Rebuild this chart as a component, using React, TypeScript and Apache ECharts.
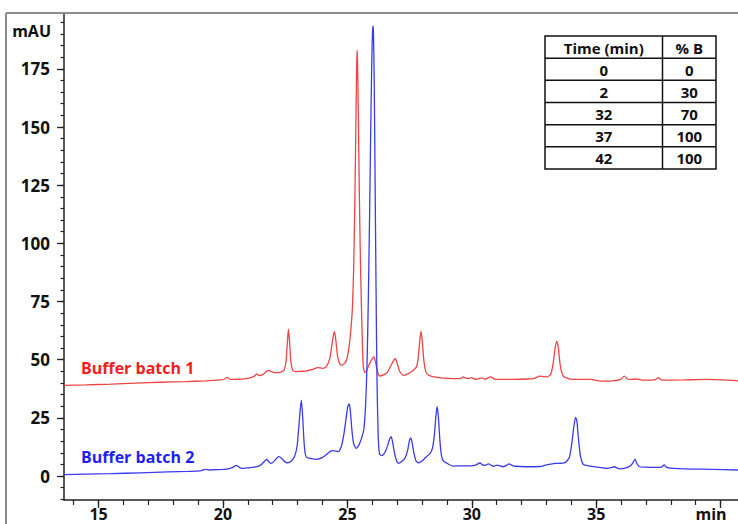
import React, { useEffect, useRef } from "react";
import * as echarts from "echarts";

// ---- Data ----
const seriesNames = ["Buffer batch 1", "Buffer batch 2"];

// [time (min), signal (mAU)]
const batch1Points: number[][] = [
  [13.61, 39.0], [14.5, 39.2], [15.5, 39.5], [16.5, 39.9], [17.5, 40.3], [18.5, 40.6],
  [19.3, 40.9], [19.9, 41.3], [20.05, 41.6], [20.18, 42.4], [20.3, 41.5], [20.6, 41.6],
  [21.0, 42.0], [21.25, 42.8], [21.36, 43.9], [21.45, 43.2], [21.6, 43.6], [21.75, 45.0],
  [21.83, 45.4], [21.95, 44.9], [22.1, 44.4], [22.3, 44.6], [22.45, 45.5], [22.53, 49],
  [22.58, 56], [22.63, 63.1], [22.68, 57], [22.73, 49], [22.8, 45.5], [22.9, 44.9],
  [23.1, 45.0], [23.37, 45.2], [23.6, 45.8], [23.8, 46.6], [24.0, 46.3], [24.15, 47],
  [24.28, 50], [24.36, 55], [24.43, 60], [24.48, 62], [24.53, 59], [24.6, 52],
  [24.68, 48.5], [24.77, 47.6], [24.88, 48.4], [24.97, 50], [25.06, 55], [25.14, 63],
  [25.2, 72], [25.25, 88], [25.3, 118], [25.34, 150], [25.37, 174], [25.39, 183],
  [25.41, 178], [25.44, 155], [25.48, 122], [25.52, 95], [25.56, 75], [25.6, 58],
  [25.64, 47], [25.7, 44.5], [25.8, 46], [25.9, 48.5], [26.0, 50.5], [26.07, 51.2],
  [26.14, 48.5], [26.22, 44.5], [26.31, 43.0], [26.45, 43.5], [26.6, 44.5], [26.75, 47.5],
  [26.85, 49.5], [26.93, 50.4], [27.0, 48.5], [27.1, 45], [27.25, 43.3], [27.45, 44],
  [27.65, 45.5], [27.78, 47], [27.85, 51], [27.9, 57], [27.96, 62.3], [28.01, 58],
  [28.07, 50], [28.15, 45], [28.26, 43.3], [28.5, 42.6], [28.73, 42.2], [29.2, 41.9],
  [29.53, 41.9], [29.66, 42.6], [29.78, 42.0], [29.9, 42.0], [30.0, 42.3], [30.13, 41.6],
  [30.27, 41.8], [30.4, 42.2], [30.53, 41.6], [30.74, 42.6], [30.9, 41.8], [31.0, 41.5],
  [31.6, 41.5], [32.2, 41.7], [32.48, 41.9], [32.74, 42.9], [33.04, 42.6], [33.18, 44],
  [33.28, 49], [33.35, 55], [33.42, 58], [33.48, 55], [33.55, 48], [33.63, 44],
  [33.71, 42.6], [34.08, 41.5], [34.82, 41.5], [35.16, 40.8], [35.69, 40.9], [35.98, 41.5],
  [36.13, 42.9], [36.25, 41.8], [36.36, 41.5], [36.62, 41.7], [36.9, 41.2], [37.35, 41.3],
  [37.5, 42.3], [37.64, 41.2], [38.5, 41.3], [39.45, 41.5], [40.7, 40.9],
];

const batch2Points: number[][] = [
  [13.61, 0.6], [14.5, 0.8], [15.5, 1.0], [16.67, 1.4], [17.8, 1.8], [18.6, 2.0],
  [19.08, 2.2], [19.3, 2.9], [19.45, 2.6], [19.61, 2.7], [20.0, 2.9], [20.22, 3.1],
  [20.4, 3.7], [20.53, 4.6], [20.65, 3.8], [20.75, 3.3], [21.1, 3.6], [21.36, 4.0],
  [21.55, 5.0], [21.68, 6.5], [21.76, 7.1], [21.85, 6.0], [21.92, 5.4], [22.05, 6.3],
  [22.18, 7.9], [22.25, 8.3], [22.35, 7.6], [22.48, 6.2], [22.59, 5.7], [22.75, 6.5],
  [22.88, 8.5], [22.98, 13], [23.04, 20], [23.1, 28], [23.15, 32.6], [23.2, 26],
  [23.25, 16], [23.3, 9.9], [23.37, 8.0], [23.55, 7.5], [23.77, 7.2], [24.0, 8.0],
  [24.17, 9.4], [24.3, 10.5], [24.41, 10.9], [24.55, 10.7], [24.64, 10.5], [24.75, 12.5],
  [24.86, 18], [24.95, 25], [25.02, 30], [25.07, 31], [25.12, 28], [25.18, 20],
  [25.25, 14], [25.35, 11.9], [25.47, 13.5], [25.58, 16.6], [25.66, 20], [25.73, 30],
  [25.79, 48], [25.84, 75], [25.89, 110], [25.94, 150], [25.98, 178], [26.01, 191],
  [26.03, 193.5], [26.05, 190], [26.08, 168], [26.11, 132], [26.14, 95], [26.17, 60],
  [26.2, 35], [26.24, 17], [26.29, 9.5], [26.38, 8.8], [26.52, 10.4], [26.63, 13.5],
  [26.7, 16], [26.76, 16.9], [26.82, 14.5], [26.9, 9.5], [26.98, 6.5], [27.05, 5.4],
  [27.18, 6.2], [27.32, 7.8], [27.42, 11], [27.5, 15.5], [27.55, 16.4], [27.6, 14.5],
  [27.68, 9.5], [27.76, 6.5], [27.85, 5.7], [28.0, 6.5], [28.18, 8.3], [28.32, 9.6],
  [28.42, 12], [28.5, 18], [28.56, 26], [28.61, 29.8], [28.66, 25], [28.72, 15],
  [28.78, 9], [28.85, 6.5], [29.0, 5.5], [29.25, 4.3], [29.53, 4.4], [29.9, 4.4],
  [30.15, 4.7], [30.33, 5.6], [30.43, 4.8], [30.53, 4.6], [30.67, 5.2], [30.8, 4.5],
  [30.87, 4.2], [31.03, 4.7], [31.25, 4.0], [31.38, 4.5], [31.5, 5.2], [31.62, 4.6],
  [31.74, 4.2], [32.2, 4.0], [32.74, 4.1], [33.0, 4.8], [33.35, 5.4], [33.75, 5.8],
  [33.92, 8], [34.02, 14], [34.1, 21], [34.17, 25.2], [34.22, 24], [34.28, 17],
  [34.36, 9], [34.45, 5.5], [34.51, 4.8], [34.89, 4.0], [35.2, 3.6], [35.43, 3.3],
  [35.6, 3.6], [35.72, 4.0], [35.85, 3.4], [35.96, 3.1], [36.2, 3.5], [36.38, 4.4],
  [36.48, 5.8], [36.56, 7.3], [36.63, 5.5], [36.74, 4.0], [37.0, 3.8], [37.3, 3.7],
  [37.62, 3.8], [37.73, 4.8], [37.82, 3.8], [37.97, 3.4], [38.8, 3.0], [39.6, 2.9],
  [40.7, 2.6],
];

// Axis ticks
const xLabelValues = [15, 20, 25, 30, 35];
const xMajorTicks = [15, 20, 25, 30, 35, 40];
const xMinorTicks = [14, 15, 16, 17, 18, 19, 20, 21, 22, 23, 24, 25, 26, 27, 28, 29, 30, 31, 32, 33, 34, 35, 36, 37, 38, 39, 40];
const yLabelValues = [0, 25, 50, 75, 100, 125, 150, 175];
const yMinorTicks = [-10, -5, 0, 5, 10, 15, 20, 25, 30, 35, 40, 45, 50, 55, 60, 65, 70, 75, 80, 85, 90, 95, 100, 105, 110, 115, 120, 125, 130, 135, 140, 145, 150, 155, 160, 165, 170, 175, 180, 185, 190, 195];
const xUnit = "min";
const yUnit = "mAU";

// Gradient table
const tableHeader = ["Time (min)", "% B"];
const gradientTime = ["0", "2", "32", "37", "42"];
const gradientB = ["0", "30", "70", "100", "100"];

const X_MIN = 13.61;
const X_MAX = 40.7;
const Y_MIN = -10.3;
const Y_MAX = 199;

const FONT = "'Open Sans', 'Liberation Sans', sans-serif";
const RED_LINE = "#ee4444";
const BLUE_LINE = "#3b3bee";
const RED_TEXT = "#f01e1e";
const BLUE_TEXT = "#1e1ef5";

function buildTable(): any[] {
  const x0 = 545, x1 = 716, xm = 662.5, y0 = 36, y1 = 169;
  const rowH = (y1 - y0) / 6;
  const els: any[] = [];
  els.push({ type: "rect", shape: { x: x0, y: y0, width: x1 - x0, height: y1 - y0 }, style: { fill: "#fff", stroke: "#111", lineWidth: 1.5 }, z: 10 });
  for (let i = 1; i < 6; i++) {
    els.push({ type: "line", shape: { x1: x0, y1: y0 + rowH * i, x2: x1, y2: y0 + rowH * i }, style: { stroke: "#111", lineWidth: 1.5 }, z: 11 });
  }
  els.push({ type: "line", shape: { x1: xm, y1: y0, x2: xm, y2: y1 }, style: { stroke: "#111", lineWidth: 1.5 }, z: 11 });
  const c1 = (x0 + xm) / 2, c2 = (xm + x1) / 2;
  const rows = [tableHeader].concat(gradientTime.map((t, i) => [t, gradientB[i]]));
  rows.forEach((r, i) => {
    const cy = y0 + rowH * (i + 0.5) + 0.5;
    [c1, c2].forEach((cx, j) => {
      els.push({ type: "text", x: cx, y: cy, z: 12, style: { text: r[j], fill: "#111", font: `bold 15px ${FONT}`, textAlign: "center", textVerticalAlign: "middle" } });
    });
  });
  return els;
}

export default function App() {
  const ref = useRef<HTMLDivElement>(null);
  useEffect(() => {
    if (!ref.current) return;
    const chart = echarts.init(ref.current, null, { renderer: "svg" });
    const axisColor = "#222";
    const labelStyle = { fontSize: 17, fontWeight: "bold" as const, color: "#111", fontFamily: FONT };
    const grid = { left: 64, top: 13, right: 0, bottom: 24 };
    chart.setOption({
      animation: false,
      backgroundColor: "#fff",
      grid: [grid, { ...grid }],
      xAxis: [
        {
          type: "value", gridIndex: 0, min: X_MIN, max: X_MAX, position: "bottom",
          axisLine: { show: true, onZero: false, lineStyle: { color: axisColor, width: 1.5 } },
          axisTick: { show: true, customValues: xMajorTicks, length: 8, lineStyle: { color: axisColor, width: 1.3 } },
          axisLabel: { ...labelStyle, fontSize: 16, customValues: xLabelValues, margin: 6, showMinLabel: true, showMaxLabel: true },
          splitLine: { show: false },
        },
        {
          type: "value", gridIndex: 1, min: X_MIN, max: X_MAX, position: "bottom",
          axisLine: { show: false, onZero: false },
          axisTick: { show: true, customValues: xMinorTicks, length: 5, lineStyle: { color: axisColor, width: 1.2 } },
          axisLabel: { show: false },
          splitLine: { show: false },
        },
      ],
      yAxis: [
        {
          type: "value", gridIndex: 0, min: Y_MIN, max: Y_MAX, position: "left",
          axisLine: { show: true, onZero: false, lineStyle: { color: axisColor, width: 1.5 } },
          axisTick: { show: true, customValues: yLabelValues, length: 7, lineStyle: { color: axisColor, width: 1.3 } },
          axisLabel: { ...labelStyle, customValues: yLabelValues, margin: 14 },
          splitLine: { show: false },
        },
        {
          type: "value", gridIndex: 1, min: Y_MIN, max: Y_MAX, position: "left",
          axisLine: { show: false, onZero: false },
          axisTick: { show: true, customValues: yMinorTicks, length: 3.5, lineStyle: { color: axisColor, width: 1.2 } },
          axisLabel: { show: false },
          splitLine: { show: false },
        },
      ],
      series: [
        {
          name: seriesNames[0], type: "line", xAxisIndex: 0, yAxisIndex: 0, data: batch1Points,
          showSymbol: false, smooth: 0.2, clip: true,
          lineStyle: { color: RED_LINE, width: 1.3 },
        },
        {
          name: seriesNames[1], type: "line", xAxisIndex: 0, yAxisIndex: 0, data: batch2Points,
          showSymbol: false, smooth: 0.2, clip: true,
          lineStyle: { color: BLUE_LINE, width: 1.3 },
        },
      ],
      graphic: [
        { type: "line", shape: { x1: 6, y1: 13, x2: 738, y2: 13 }, style: { stroke: "#8c8c8c", lineWidth: 2 }, z: 5 },
        { type: "line", shape: { x1: 6, y1: 13, x2: 6, y2: 524 }, style: { stroke: "#8c8c8c", lineWidth: 2 }, z: 5 },
        { type: "text", x: 51, y: 31, style: { text: yUnit, fill: "#111", font: `bold 16px ${FONT}`, textAlign: "right", textVerticalAlign: "middle" } },
        { type: "text", x: 711, y: 514, style: { text: xUnit, fill: "#111", font: `bold 16px ${FONT}`, textAlign: "center", textVerticalAlign: "middle" } },
        { type: "text", x: 81, y: 368, style: { text: seriesNames[0], fill: RED_TEXT, font: `bold 16px ${FONT}`, textAlign: "left", textVerticalAlign: "middle" } },
        { type: "text", x: 81, y: 457, style: { text: seriesNames[1], fill: BLUE_TEXT, font: `bold 16px ${FONT}`, textAlign: "left", textVerticalAlign: "middle" } },
        ...buildTable(),
      ],
    });
    return () => chart.dispose();
  }, []);
  return <div ref={ref} style={{ position: "absolute", left: 0, top: 0, width: 738, height: 524 }} />;
}
